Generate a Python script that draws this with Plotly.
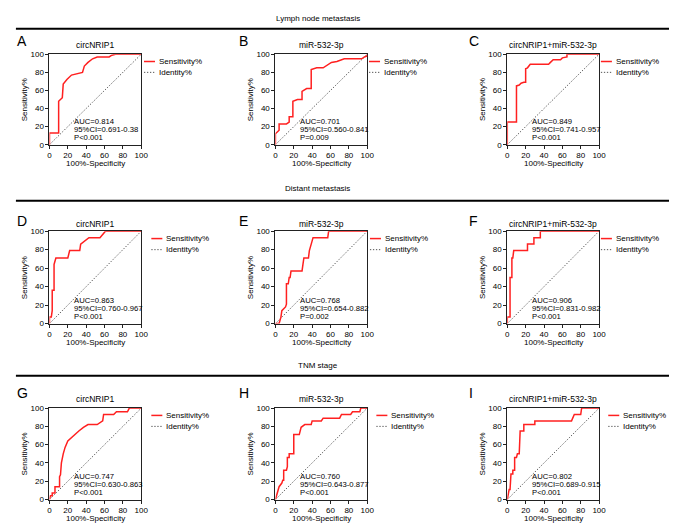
import plotly.graph_objects as go

# ---------------- data ----------------
section_titles = ["Lymph node metastasis", "Distant metastasis", "TNM stage"]
panel_letters = ["A", "B", "C", "D", "E", "F", "G", "H", "I"]
marker_names = ["circNRIP1", "miR-532-3p", "circNRIP1+miR-532-3p"]

A_x = [0, 0, 10, 10, 14, 15, 19, 24, 36, 38, 42, 47, 52, 65, 68, 72, 100]
A_y = [0, 13, 13, 48, 52, 67, 72, 77, 80, 87, 91, 95, 97, 97, 99, 100, 100]
B_x = [0, 0, 4, 4, 12, 15, 15, 19, 19, 24, 29, 29, 34, 39, 39, 45, 52, 55, 61, 67, 75, 94, 97, 100, 100]
B_y = [0, 12, 16, 23, 23, 25, 31, 31, 48, 50, 50, 59, 62, 62, 83, 85, 85, 87, 91, 92, 95, 95, 97, 98, 100]
C_x = [0, 0, 10, 10, 13, 15, 18, 20, 20, 22, 25, 45, 47, 50, 58, 60, 65, 65, 100]
C_y = [0, 25, 25, 65, 66, 68, 69, 69, 84, 85, 89, 89, 91, 94, 94, 96, 97, 100, 100]
D_x = [0, 0, 2, 3, 3, 5, 5, 7, 20, 22, 33, 34, 43, 55, 61, 100]
D_y = [0, 7, 7, 14, 36, 36, 64, 71, 71, 79, 79, 86, 93, 93, 100, 100]
E_x = [0, 4, 6, 7, 11, 12, 12, 14, 15, 16, 17, 29, 30, 31, 36, 37, 39, 41, 57, 58, 100]
E_y = [0, 0, 7, 14, 18, 21, 43, 43, 50, 50, 57, 57, 64, 71, 71, 79, 86, 93, 93, 100, 100]
F_x = [0, 0, 3, 3, 5, 5, 6, 7, 22, 22, 29, 29, 36, 36, 100]
F_y = [0, 7, 7, 50, 50, 71, 71, 79, 79, 86, 86, 93, 93, 100, 100]
G_x = [0, 1, 3, 3, 6, 6, 11, 11, 12, 13, 15, 17, 20, 23, 27, 32, 37, 42, 52, 58, 59, 70, 73, 85, 87, 100]
G_y = [0, 4, 4, 7, 7, 14, 14, 25, 27, 40, 50, 57, 64, 67, 71, 75, 79, 82, 82, 86, 93, 93, 96, 96, 100, 100]
H_x = [0, 1, 2, 4, 7, 8, 9, 9, 12, 13, 13, 15, 15, 20, 20, 26, 28, 32, 39, 40, 50, 52, 70, 72, 82, 84, 92, 93, 100]
H_y = [0, 4, 7, 14, 18, 21, 21, 32, 32, 36, 46, 46, 50, 50, 71, 71, 79, 82, 82, 86, 86, 89, 89, 93, 93, 96, 96, 100, 100]
I_x = [0, 1, 2, 3, 4, 6, 6, 8, 8, 10, 11, 13, 14, 18, 18, 30, 30, 70, 73, 80, 81, 100]
I_y = [0, 4, 11, 11, 28, 28, 32, 32, 46, 46, 50, 50, 75, 75, 82, 82, 86, 86, 93, 93, 100, 100]

identity_x = [0, 100]
identity_y = [0, 100]

auc_text = ["AUC=0.814", "AUC=0.701", "AUC=0.849",
            "AUC=0.863", "AUC=0.768", "AUC=0.906",
            "AUC=0.747", "AUC=0.760", "AUC=0.802"]
ci_text = ["95%CI=0.691-0.38", "95%CI=0.560-0.841", "95%CI=0.741-0.957",
           "95%CI=0.760-0.967", "95%CI=0.654-0.882", "95%CI=0.831-0.982",
           "95%CI=0.630-0.863", "95%CI=0.643-0.877", "95%CI=0.689-0.915"]
p_text = ["P<0.001", "P=0.009", "P<0.001",
          "P<0.001", "P=0.002", "P<0.001",
          "P<0.001", "P<0.001", "P<0.001"]

curves_x = [A_x, B_x, C_x, D_x, E_x, F_x, G_x, H_x, I_x]
curves_y = [A_y, B_y, C_y, D_y, E_y, F_y, G_y, H_y, I_y]
tick_vals = [0, 20, 40, 60, 80, 100]

# ---------------- layout constants ----------------
W, H = 677, 526
FONT = "Liberation Sans, Arial, Helvetica, sans-serif"
RED = "#ff2020"
GREY = "#555555"
DOT = "1.3px,1.7px"
col_left = [40, 269, 504]
col_w = 93
row_top = [43, 223, 403]
row_h = [92, 94, 93]
title_gap = [9.5, 7, 9]
letter_x = [5, 230, 463]
letter_y = [30, 213, 388]
header_y = [7, 180, 360]
rule_y = [17, 192, 370]
stat_y = [[25.8, 16.7, 7.6], [25, 16.3, 7.6], [25.5, 16.5, 7.8]]
legend_dx = [[1.03, 1.02, 1.02], [1.11, 1.03, 1.02], [1.11, 1.10, 1.10]]


def px(x):
    return x / W


def py(y):
    return 1 - y / H


fig = go.Figure()
annotations = []
shapes = []

for k in range(9):
    r, c = divmod(k, 3)
    sfx = "" if k == 0 else str(k + 1)
    xa, ya = "x" + sfx, "y" + sfx
    xdom = [px(col_left[c]), px(col_left[c] + col_w)]
    ydom = [py(row_top[r] + row_h[r]), py(row_top[r])]

    fig.add_trace(go.Scatter(x=identity_x, y=identity_y, mode="lines",
                             line=dict(color=GREY, width=1, dash=DOT),
                             xaxis=xa, yaxis=ya, showlegend=False, hoverinfo="skip"))
    fig.add_trace(go.Scatter(x=curves_x[k], y=curves_y[k], mode="lines",
                             line=dict(color=RED, width=1.5),
                             xaxis=xa, yaxis=ya, showlegend=False, cliponaxis=False))

    axis_common = dict(range=[0, 100], tickvals=tick_vals, showline=True, mirror=True,
                       linecolor="#222222", linewidth=1, ticks="outside", ticklen=3,
                       tickwidth=1, tickcolor="#222222", showgrid=False, zeroline=False,
                       tickfont=dict(family=FONT, size=8, color="black"),
                       layer="below traces", fixedrange=True)
    fig.update_layout(**{
        ("xaxis" + sfx): dict(domain=xdom, anchor=ya, **axis_common),
        ("yaxis" + sfx): dict(domain=ydom, anchor=xa, **axis_common),
    })

    dref_x, dref_y = xa + " domain", ya + " domain"
    # panel title
    annotations.append(dict(text=marker_names[c], xref=dref_x, yref="paper",
                            x=0.5, y=py(row_top[r] - title_gap[r]), showarrow=False,
                            xanchor="center", yanchor="middle",
                            font=dict(family=FONT, size=8.5, color="black")))
    # panel letter
    annotations.append(dict(text=panel_letters[k], xref="paper", yref="paper",
                            x=px(letter_x[c]), y=py(letter_y[r]), showarrow=False,
                            xanchor="left", yanchor="middle",
                            font=dict(family=FONT, size=14, color="black")))
    # axis titles
    annotations.append(dict(text="Sensitivity%", xref="paper", yref=dref_y,
                            x=px(col_left[c] - 25), y=0.5, textangle=-90, showarrow=False,
                            xanchor="center", yanchor="middle",
                            font=dict(family=FONT, size=8, color="black")))
    annotations.append(dict(text="100%-Specificity", xref=dref_x, yref="paper",
                            x=0.5, y=py(row_top[r] + row_h[r] + 19.5), showarrow=False,
                            xanchor="center", yanchor="middle",
                            font=dict(family=FONT, size=8, color="black")))
    # stats
    for txt, yy in zip([auc_text[k], ci_text[k], p_text[k]], stat_y[r]):
        annotations.append(dict(text=txt, xref=xa, yref=ya, x=24.5, y=yy,
                                showarrow=False, xanchor="left", yanchor="middle",
                                font=dict(family=FONT, size=7.7, color="black")))
    # manual legend
    lx0 = legend_dx[r][c]
    lx1 = lx0 + 0.12
    for name, yy, sty in [("Sensitivity%", 0.92, dict(color=RED, width=1.5)),
                          ("Identity%", 0.80, dict(color=GREY, width=1, dash=DOT))]:
        shapes.append(dict(type="line", xref=dref_x, yref=dref_y, x0=lx0, x1=lx1,
                           y0=yy, y1=yy, line=sty))
        annotations.append(dict(text=name, xref=dref_x, yref=dref_y, x=lx1 + 0.02,
                                y=yy, showarrow=False, xanchor="left", yanchor="middle",
                                font=dict(family=FONT, size=8, color="black")))

for r in range(3):
    annotations.append(dict(text=section_titles[r], xref="paper", yref="paper",
                            x=px(312), y=py(header_y[r]), showarrow=False,
                            xanchor="center", yanchor="middle",
                            font=dict(family=FONT, size=8, color="black")))
    shapes.append(dict(type="line", xref="paper", yref="paper", x0=px(6), x1=px(670),
                       y0=py(rule_y[r]), y1=py(rule_y[r]),
                       line=dict(color="black", width=2)))

fig.update_layout(width=W, height=H, margin=dict(l=0, r=0, t=0, b=0),
                  paper_bgcolor="white", plot_bgcolor="white",
                  showlegend=False, annotations=annotations, shapes=shapes,
                  font=dict(family=FONT, color="black"))

fig.write_html("out.html")
